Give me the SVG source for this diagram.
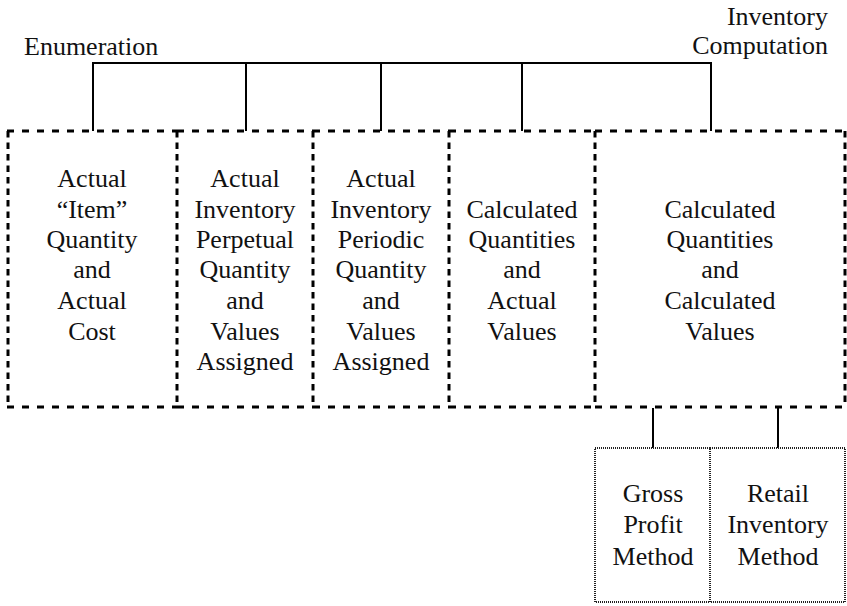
<svg xmlns="http://www.w3.org/2000/svg" width="847" height="606" viewBox="0 0 847 606" font-family="'Liberation Serif', Tinos, 'Times New Roman', 'DejaVu Serif', serif">
<style>
text{font-family:"Liberation Serif",Tinos,"Times New Roman","DejaVu Serif",serif;font-size:26px;fill:#111}
.c{text-anchor:middle}
.h{stroke:#000;stroke-width:3;stroke-dasharray:7 8;fill:none}
.v{stroke:#000;stroke-width:3;stroke-dasharray:6.5 5;fill:none}
.d{stroke:#222;stroke-width:2;stroke-dasharray:1 1;fill:none}
.conn line{stroke:#000;stroke-width:2}
</style>
<rect width="847" height="606" fill="#fff"/>
<g id="label-enumeration"><text x="24" y="55">Enumeration</text></g>
<g id="label-computation"><text x="828" y="25" text-anchor="end">Inventory</text><text x="828" y="54" text-anchor="end">Computation</text></g>
<g class="conn" id="connectors">
<line x1="92" y1="63" x2="712" y2="63"/>
<line x1="93" y1="62" x2="93" y2="131"/>
<line x1="246" y1="62" x2="246" y2="131"/>
<line x1="381" y1="62" x2="381" y2="131"/>
<line x1="522" y1="62" x2="522" y2="131"/>
<line x1="711" y1="62" x2="711" y2="131"/>
<line x1="653" y1="408" x2="653" y2="448"/>
<line x1="778" y1="408" x2="778" y2="448"/>
</g>
<g id="box1">
<line class="h" x1="7" y1="131" x2="177" y2="131"/><line class="h" x1="7" y1="407" x2="177" y2="407"/>
<line class="v" x1="8" y1="131" x2="8" y2="407"/><line class="v" x1="177" y1="131" x2="177" y2="407"/>
<text class="c" x="92" y="187">Actual</text><text class="c" x="92" y="218">“Item”</text><text class="c" x="92" y="248">Quantity</text><text class="c" x="92" y="278">and</text><text class="c" x="92" y="309">Actual</text><text class="c" x="92" y="340">Cost</text>
</g>
<g id="box2">
<line class="h" x1="177" y1="131" x2="313" y2="131"/><line class="h" x1="177" y1="407" x2="313" y2="407"/>
<line class="v" x1="313" y1="131" x2="313" y2="407"/>
<text class="c" x="245" y="187">Actual</text><text class="c" x="245" y="218">Inventory</text><text class="c" x="245" y="248">Perpetual</text><text class="c" x="245" y="278">Quantity</text><text class="c" x="245" y="309">and</text><text class="c" x="245" y="340">Values</text><text class="c" x="245" y="370">Assigned</text>
</g>
<g id="box3">
<line class="h" x1="313" y1="131" x2="449" y2="131"/><line class="h" x1="313" y1="407" x2="449" y2="407"/>
<line class="v" x1="449" y1="131" x2="449" y2="407"/>
<text class="c" x="381" y="187">Actual</text><text class="c" x="381" y="218">Inventory</text><text class="c" x="381" y="248">Periodic</text><text class="c" x="381" y="278">Quantity</text><text class="c" x="381" y="309">and</text><text class="c" x="381" y="340">Values</text><text class="c" x="381" y="370">Assigned</text>
</g>
<g id="box4">
<line class="h" x1="449" y1="131" x2="595" y2="131"/><line class="h" x1="449" y1="407" x2="595" y2="407"/>
<line class="v" x1="595" y1="131" x2="595" y2="407"/>
<text class="c" x="522" y="218">Calculated</text><text class="c" x="522" y="248">Quantities</text><text class="c" x="522" y="278">and</text><text class="c" x="522" y="309">Actual</text><text class="c" x="522" y="340">Values</text>
</g>
<g id="box5">
<line class="h" x1="595" y1="131" x2="846" y2="131"/><line class="h" x1="595" y1="407" x2="846" y2="407"/>
<line class="v" x1="845" y1="131" x2="845" y2="407"/>
<text class="c" x="720" y="218">Calculated</text><text class="c" x="720" y="248">Quantities</text><text class="c" x="720" y="278">and</text><text class="c" x="720" y="309">Calculated</text><text class="c" x="720" y="340">Values</text>
</g>
<g id="gross-profit">
<rect class="d" x="595" y="448" width="115" height="154"/>
<text class="c" x="653" y="502">Gross</text><text class="c" x="653" y="533">Profit</text><text class="c" x="653" y="565">Method</text>
</g>
<g id="retail-inventory">
<rect class="d" x="710" y="448" width="135" height="154"/>
<text class="c" x="778" y="502">Retail</text><text class="c" x="778" y="533">Inventory</text><text class="c" x="778" y="565">Method</text>
</g>
</svg>
